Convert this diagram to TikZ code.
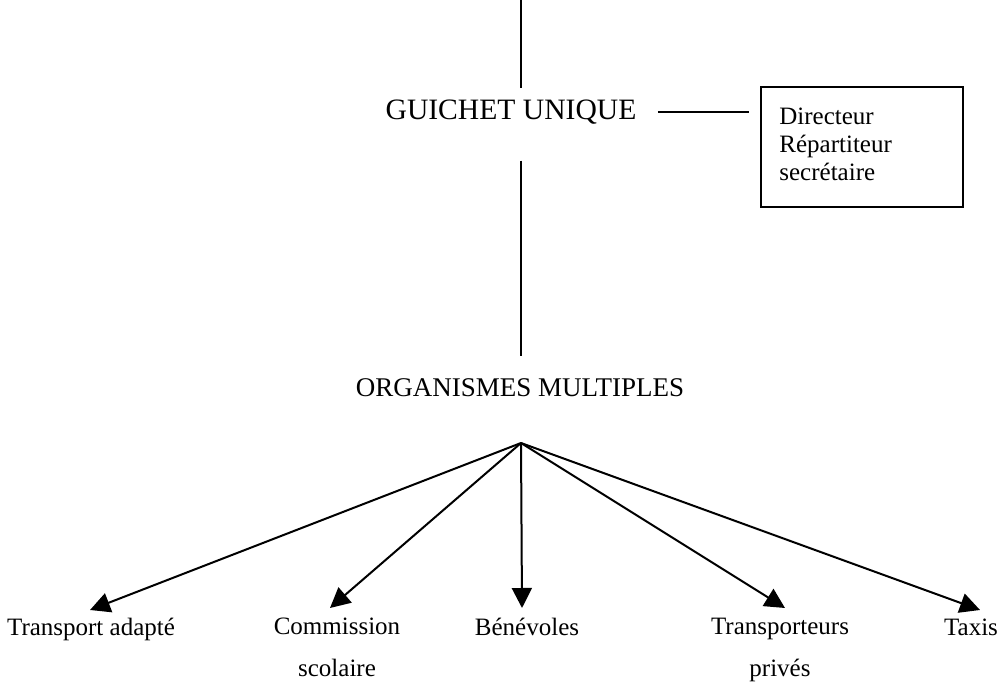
\documentclass[tikz,border=0pt]{standalone}
\usepackage{fontspec}
\setmainfont{Liberation Serif}
\usetikzlibrary{arrows.meta,positioning}

\tikzset{
  heading/.style={font=\fontsize{14.8}{16}\selectfont, inner sep=0pt},
  leaf/.style={font=\fontsize{12.5}{21}\selectfont, align=center, inner sep=0pt, anchor=north},
  link/.style={line width=1pt},
  feed/.style={link, -{Triangle[length=10pt,width=10pt]}},
  staffbox/.style={draw, line width=1pt, minimum width=101pt, minimum height=60pt, inner sep=0pt}
}

\begin{document}
\begin{tikzpicture}[x=0.5pt,y=-0.5pt]
  \useasboundingbox (0,0) rectangle (1000,683);

  % upper part
  \coordinate (top) at (521,0);
  \node[heading] (guichet) at (511,112) {GUICHET UNIQUE};
  \node[staffbox] (staff) at (862,147) {};
  \node[font=\fontsize{12.5}{14}\selectfont, align=left, inner sep=0pt, anchor=north west]
    (stafftext) at ([xshift=9.5pt,yshift=-11pt]staff.north west) {Directeur\\Répartiteur\\secrétaire};
  \node[heading, font=\fontsize{13.5}{16}\selectfont] (organismes) at (520,388) {ORGANISMES MULTIPLES};

  \draw[link] (top) -- ([yshift=5.5pt]top |- guichet.north);
  \draw[link, shorten <=18pt, shorten >=11.5pt] (guichet.south -| top) -- (organismes.north -| top);
  \draw[link, shorten <=10.5pt, shorten >=5.5pt] (guichet.east) -- (staff.west |- guichet.east);

  % fan of arrows
  \coordinate (hub) at (521,443);
  \coordinate (adapte-in) at (90,610);
  \coordinate (scolaire-in) at (330,608);
  \coordinate (benevoles-in) at (522,608);
  \coordinate (prives-in) at (785,608);
  \coordinate (taxis-in) at (980,610);

  \node[leaf] (adapte) at (91,618) {Transport adapté};
  \node[leaf] (scolaire) at (337,618) {Commission\\scolaire};
  \node[leaf] (benevoles) at (527,618) {Bénévoles};
  \node[leaf] (prives) at (780,618) {Transporteurs\\privés};
  \node[leaf] (taxis) at (971,619) {Taxis};

  \foreach \t in {adapte-in,scolaire-in,benevoles-in,prives-in,taxis-in}
    \draw[feed] (hub) -- (\t);
\end{tikzpicture}
\end{document}
